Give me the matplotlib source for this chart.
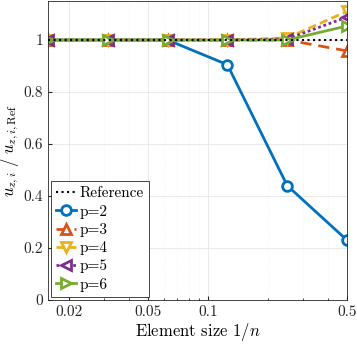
import matplotlib
matplotlib.use("Agg")
import matplotlib.pyplot as plt
import numpy as np
from matplotlib.ticker import FixedLocator, NullFormatter

plt.rcParams['font.family'] = ['cmr10', 'DejaVu Serif']
plt.rcParams['mathtext.fontset'] = 'cm'
plt.rcParams['axes.formatter.use_mathtext'] = True

h = [1/64, 1/32, 1/16, 1/8, 1/4, 1/2]
p2 = [1.0, 1.0, 1.0, 0.905, 0.44, 0.23]
p3 = [1.0, 1.0, 1.0, 1.0, 1.0, 0.958]
p4 = [1.0, 1.0, 1.0, 1.0, 1.008, 1.11]
p5 = [1.0, 1.0, 1.0, 1.0, 1.004, 1.088]
p6 = [1.0, 1.0, 1.0, 1.0, 1.0, 1.054]
ref = [1.0, 1.0, 1.0, 1.0, 1.0, 1.0]
labels = ['p=2', 'p=3', 'p=4', 'p=5', 'p=6']
xticks = [0.02, 0.05, 0.1, 0.5]
xticklabels = ['0.02', '0.05', '0.1', '0.5']
yticks = [0, 0.2, 0.4, 0.6, 0.8, 1]
yticklabels = ['0', '0.2', '0.4', '0.6', '0.8', '1']

fig = plt.figure(figsize=(3.57, 3.45), dpi=100)
ax = fig.add_axes([48/357, 45/345, 299/357, 299/345])

ax.plot(h, ref, ':', color='black', lw=1.5, label='Reference', zorder=3)
styles = [
    (p2, '#0072BD', '-', 'o'),
    (p3, '#D95319', (0, (4, 2.5)), '^'),
    (p4, '#EDB120', (0, (3, 1.5)), 'v'),
    (p5, '#7E2F8E', (0, (1, 1)), '<'),
    (p6, '#77AC30', '-', '>'),
]
for (y, c, ls, m), lab in zip(styles, labels):
    ax.plot(h, y, linestyle=ls, color=c, lw=2, marker=m, ms=7,
            mfc='white', mec=c, mew=2, label=lab, zorder=2)

ax.set_xscale('log')
ax.set_xlim(1/64, 1/2)
ax.set_ylim(0, 1.15)
ax.xaxis.set_major_locator(FixedLocator(xticks))
ax.set_xticklabels(xticklabels)
ax.xaxis.set_minor_formatter(NullFormatter())
ax.set_yticks(yticks)
ax.set_yticklabels(yticklabels)
ax.tick_params(direction='in', which='both', labelsize=11, colors='#262626', length=3)
ax.tick_params(which='minor', length=1.5)
ax.grid(True, which='major', color='#e6e6e6', lw=0.6)
ax.grid(True, which='minor', axis='x', color='#eeeeee', lw=0.5, linestyle=':')
ax.set_axisbelow(True)
for s in ax.spines.values():
    s.set_color('#262626')
    s.set_linewidth(0.6)

ax.set_xlabel('Element size $1/n$', fontsize=12, labelpad=2)
ax.set_ylabel(r'$u_{z,i}\ /\ u_{z,i,\mathrm{Ref}}$', fontsize=12, labelpad=2)

leg = ax.legend(loc='lower left', fontsize=11, handlelength=1.3, handletextpad=0.2,
                borderpad=0.35, labelspacing=0.28, fancybox=False, framealpha=1,
                edgecolor='#262626', borderaxespad=0.2)
leg.get_frame().set_linewidth(0.6)

fig.savefig('out.png', dpi=100)
